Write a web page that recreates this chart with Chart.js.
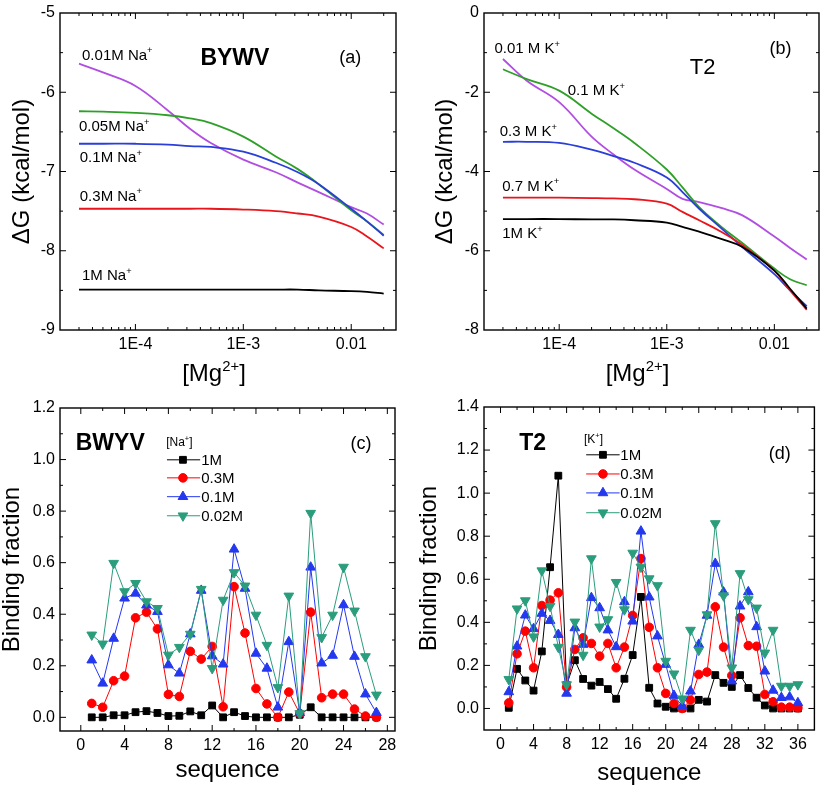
<!DOCTYPE html>
<html>
<head>
<meta charset="utf-8">
<script src="https://cdn.jsdelivr.net/npm/chart.js@4.4.1/dist/chart.umd.min.js"></script>
<style>
  body { margin: 0; background: #fff; }
  .panel { position: absolute; }
</style>
</head>
<body>
<div class="panel" style="left:0;top:0;width:410px;height:390px"><canvas id="chartA"></canvas></div>
<div class="panel" style="left:410px;top:0;width:411px;height:390px"><canvas id="chartB"></canvas></div>
<div class="panel" style="left:0;top:390px;width:410px;height:395px"><canvas id="chartC"></canvas></div>
<div class="panel" style="left:410px;top:390px;width:411px;height:395px"><canvas id="chartD"></canvas></div>
<script>
// ---- data: panel (a) BYWV, dG vs [Mg2+] ----
const mgA = [3e-5, 5e-5, 1e-4, 2e-4, 3.2e-4, 5e-4, 1e-3, 2e-3, 3.2e-3, 5e-3, 1e-2, 1.4e-2, 2e-2];
const na001 = [-5.64, -5.75, -5.92, -6.23, -6.46, -6.64, -6.85, -7.01, -7.14, -7.26, -7.45, -7.53, -7.67];
const na005 = [-6.24, -6.245, -6.26, -6.29, -6.33, -6.39, -6.56, -6.81, -6.97, -7.16, -7.49, -7.63, -7.80];
const na01  = [-6.65, -6.65, -6.65, -6.66, -6.68, -6.69, -6.75, -6.89, -7.01, -7.16, -7.47, -7.63, -7.81];
const na03  = [-7.47, -7.47, -7.47, -7.47, -7.47, -7.47, -7.48, -7.50, -7.53, -7.57, -7.70, -7.82, -7.97];
const na1   = [-8.49, -8.49, -8.49, -8.49, -8.49, -8.49, -8.49, -8.49, -8.49, -8.50, -8.51, -8.52, -8.54];

// ---- data: panel (b) T2, dG vs [Mg2+] ----
const mgB = [3e-5, 5e-5, 1e-4, 2e-4, 3.2e-4, 5e-4, 1e-3, 1.4e-3, 2e-3, 3.2e-3, 5e-3, 1e-2, 1.4e-2, 2e-2];
const k001 = [-1.16, -1.71, -2.25, -3.12, -3.57, -3.95, -4.44, -4.69, -4.77, -4.92, -5.10, -5.64, -5.93, -6.22];
const k01  = [-1.42, -1.67, -1.96, -2.54, -2.91, -3.28, -3.95, -4.40, -4.90, -5.39, -5.80, -6.45, -6.72, -6.87];
const k03  = [-3.25, -3.25, -3.28, -3.45, -3.61, -3.78, -4.15, -4.52, -4.94, -5.43, -5.90, -6.59, -7.00, -7.40];
const k07  = [-4.66, -4.66, -4.66, -4.67, -4.68, -4.70, -4.81, -5.02, -5.23, -5.52, -5.85, -6.50, -7.00, -7.49];
const k1   = [-5.20, -5.20, -5.20, -5.21, -5.21, -5.23, -5.29, -5.40, -5.52, -5.70, -5.90, -6.50, -6.96, -7.46];

// ---- data: panel (c) BWYV binding fraction ----
const seqC = [1,2,3,4,5,6,7,8,9,10,11,12,13,14,15,16,17,18,19,20,21,22,23,24,25,26,27];
const bwyv1M   = [0, 0, 0.008, 0.008, 0.02, 0.024, 0.017, 0.005, 0.006, 0.023, 0.008, 0.046, 0, 0.02, 0.005, 0, 0, 0, 0, 0.01, 0.039, 0, 0, 0, 0, 0, 0];
const bwyv03M  = [0.054, 0.039, 0.142, 0.16, 0.386, 0.408, 0.343, 0.089, 0.081, 0.256, 0.226, 0.275, 0.041, 0.507, 0.327, 0.112, 0.052, 0, 0.098, 0.015, 0.408, 0.076, 0.09, 0.09, 0.032, 0.005, 0];
const bwyv01M  = [0.222, 0.132, 0.306, 0.462, 0.481, 0.435, 0.41, 0.203, 0.171, 0.323, 0.492, 0.238, 0.206, 0.652, 0.5, 0.248, 0.19, 0.039, 0.293, 0.017, 0.582, 0.21, 0.24, 0.436, 0.236, 0.09, 0.018];
const bwyv002M = [0.32, 0.285, 0.598, 0.488, 0.52, 0.449, 0.423, 0.242, 0.272, 0.323, 0.497, 0.19, 0.455, 0.562, 0.51, 0.397, 0.28, 0.116, 0.471, 0.015, 0.792, 0.31, 0.397, 0.583, 0.413, 0.236, 0.087];

// ---- data: panel (d) T2 binding fraction ----
const seqD = [1,2,3,4,5,6,7,8,9,10,11,12,13,14,15,16,17,18,19,20,21,22,23,24,25,26,27,28,29,30,31,32,33,34,35,36];
const t2_1M   = [0.003, 0.184, 0.13, 0.083, 0.265, 0.656, 1.081, 0.108, 0.224, 0.137, 0.106, 0.123, 0.09, 0.045, 0.138, 0.248, 0.518, 0.096, 0.023, 0.008, 0, 0, 0, 0.04, 0.032, 0.155, 0.119, 0.1, 0.155, 0.095, 0.05, 0.014, 0, 0, 0, 0];
const t2_03M  = [0.026, 0.254, 0.359, 0.189, 0.478, 0.503, 0.537, 0.099, 0.274, 0.328, 0.302, 0.243, 0.302, 0.189, 0.285, 0.432, 0.696, 0.377, 0.189, 0.07, 0.023, 0, 0.039, 0.158, 0.169, 0.472, 0.285, 0.153, 0.421, 0.292, 0.289, 0.065, 0.031, 0.006, 0.006, 0.003];
const t2_01M  = [0.077, 0.289, 0.433, 0.37, 0.441, 0.408, 0.343, 0.07, 0.374, 0.297, 0.514, 0.467, 0.364, 0.286, 0.495, 0.405, 0.823, 0.517, 0.336, 0.204, 0.06, 0.011, 0.08, 0.297, 0.432, 0.673, 0.54, 0.127, 0.475, 0.541, 0.379, 0.173, 0.084, 0.05, 0.053, 0.026];
const t2_002M = [0.135, 0.463, 0.501, 0.333, 0.64, 0.475, 0.285, 0.111, 0.402, 0.248, 0.696, 0.379, 0.413, 0.586, 0.459, 0.722, 0.657, 0.603, 0.571, 0.22, 0.161, 0.045, 0.364, 0.271, 0.436, 0.859, 0.524, 0.189, 0.627, 0.506, 0.467, 0.258, 0.364, 0.104, 0.104, 0.111];

// ---- ticks ----
const mgTicks = [1e-4, 1e-3, 1e-2];
const mgLabels = ['1E-4', '1E-3', '0.01'];
const yTicksA = [-9, -8, -7, -6, -5];
const yTicksB = [-8, -6, -4, -2, 0];
const yTicksC = [0, 0.2, 0.4, 0.6, 0.8, 1.0, 1.2];
const yTicksD = [0, 0.2, 0.4, 0.6, 0.8, 1.0, 1.2, 1.4];
const xTicksC = [0, 4, 8, 12, 16, 20, 24, 28];
const xTicksD = [0, 4, 8, 12, 16, 20, 24, 28, 32, 36];

const FONT = "'Liberation Sans', Arial, Helvetica, sans-serif";

// minor tick helpers (axis decoration only)
const between = (a, b, step) => { const r = []; for (let v = a; v <= b + 1e-9; v += step) r.push(+v.toFixed(4)); return r; };
const logMinor = [];
[1e-5, 1e-4, 1e-3, 1e-2].forEach(d => { for (let m = 2; m <= 9; m++) logMinor.push(d * m); });

function drawRich(ctx, x, y, parts, size, weight, align) {
  let w = 0;
  const segs = parts.map(p => {
    const fs = p[1] ? size * 0.62 : size;
    ctx.font = `${weight} ${fs}px ${FONT}`;
    const sw = ctx.measureText(p[0]).width;
    w += sw;
    return { t: p[0], sup: p[1], fs, sw };
  });
  let cx = align === 'center' ? x - w / 2 : x;
  ctx.textBaseline = 'alphabetic';
  ctx.textAlign = 'left';
  segs.forEach(s => {
    ctx.font = `${weight} ${s.fs}px ${FONT}`;
    ctx.fillText(s.t, cx, s.sup ? y - size * 0.42 : y);
    cx += s.sw;
  });
}

// frame + inward ticks on all four sides, like the original plot
const framePlugin = {
  id: 'frame',
  afterDraw(chart, args, opts) {
    const { ctx, chartArea: a, scales: { x, y } } = chart;
    ctx.save();
    ctx.strokeStyle = '#000';
    ctx.lineWidth = 1.4;
    ctx.strokeRect(a.left, a.top, a.right - a.left, a.bottom - a.top);
    ctx.lineWidth = 1;
    const tick = (vals, len) => {
      ctx.beginPath();
      vals.forEach(v => {
        const px = x.getPixelForValue(v);
        if (px <= a.left + 1 || px >= a.right - 1) return;
        ctx.moveTo(px, a.bottom); ctx.lineTo(px, a.bottom - len);
        ctx.moveTo(px, a.top); ctx.lineTo(px, a.top + len);
      });
      ctx.stroke();
    };
    const tickY = (vals, len) => {
      ctx.beginPath();
      vals.forEach(v => {
        const py = y.getPixelForValue(v);
        if (py <= a.top + 1 || py >= a.bottom - 1) return;
        ctx.moveTo(a.left, py); ctx.lineTo(a.left + len, py);
        ctx.moveTo(a.right, py); ctx.lineTo(a.right - len, py);
      });
      ctx.stroke();
    };
    tick(x.ticks.map(t => t.value), 6);
    tick(opts.xMinor, 3);
    tickY(y.ticks.map(t => t.value), 6);
    tickY(opts.yMinor, 3);
    ctx.restore();
  }
};

// text notes, x-axis title with superscript, in-plot legend
const notesPlugin = {
  id: 'notes',
  afterDatasetsDraw(chart, args, opts) {
    const { ctx, chartArea: a, scales: { x, y } } = chart;
    ctx.save();
    ctx.fillStyle = '#000';
    (opts.items || []).forEach(n => {
      drawRich(ctx, x.getPixelForValue(n.x), y.getPixelForValue(n.y) + n.size * 0.36,
        n.parts, n.size, n.weight || 'normal', n.align || 'left');
    });
    if (opts.xTitle) {
      drawRich(ctx, (a.left + a.right) / 2 + opts.xTitle.dx, a.bottom + opts.xTitle.dy,
        opts.xTitle.parts, opts.xTitle.size, 'normal', 'center');
    }
    const lg = opts.legend;
    if (lg) {
      chart.data.datasets.forEach((ds, i) => {
        const py = y.getPixelForValue(lg.rows[i]);
        ctx.strokeStyle = ds.borderColor;
        ctx.lineWidth = 1;
        ctx.beginPath();
        ctx.moveTo(x.getPixelForValue(lg.x0), py);
        ctx.lineTo(x.getPixelForValue(lg.x1), py);
        ctx.stroke();
        ctx.fillStyle = ds.pointBackgroundColor;
        ctx.strokeStyle = ds.pointBackgroundColor;
        Chart.helpers.drawPoint(ctx, { pointStyle: ds.pointStyle, radius: ds.pointRadius, rotation: ds.pointRotation || 0, borderWidth: 1 },
          x.getPixelForValue(lg.xm), py);
        ctx.fillStyle = '#000';
        drawRich(ctx, x.getPixelForValue(lg.xt), py + 15 * 0.36, [[ds.label]], 15, 'normal', 'left');
      });
    }
    ctx.restore();
  }
};

function curve(label, xs, ys, color) {
  return {
    label, data: xs.map((v, i) => ({ x: v, y: ys[i] })),
    borderColor: color, borderWidth: 1.8, pointRadius: 0,
    tension: 0.4, fill: false
  };
}
function series(label, xs, ys, color, style, radius, rot, order) {
  return {
    label, data: xs.map((v, i) => ({ x: v, y: ys[i] })),
    borderColor: color, borderWidth: 1, pointStyle: style, pointRadius: radius,
    pointRotation: rot, pointBackgroundColor: color, pointBorderColor: color,
    pointBorderWidth: 1, tension: 0, order, fill: false
  };
}

function axisFont(size) { return { family: FONT, size, lineHeight: 1 }; }

function baseOptions(o) {
  return {
    responsive: true, maintainAspectRatio: false, animation: false, devicePixelRatio: 1,
    layout: { padding: o.pad },
    plugins: { legend: { display: false }, tooltip: { enabled: false },
      frame: { xMinor: o.xMinor, yMinor: o.yMinor }, notes: o.notes },
    scales: {
      x: Object.assign({
        min: o.xMin, max: o.xMax,
        afterBuildTicks: s => { s.ticks = o.xTicks.map(v => ({ value: v })); },
        ticks: { font: axisFont(16), color: '#000', padding: 7, maxRotation: 0, autoSkip: false,
          callback: (v, i) => o.xLabels[i] },
        grid: { display: false, drawTicks: false },
        border: { display: false },
        title: o.xTitle ? { display: true, text: o.xTitle, font: axisFont(24), color: '#000', padding: { top: 0, bottom: o.xTitlePad } } : { display: false },
        afterFit: s => { s.height = o.xH; }
      }, o.xType ? { type: o.xType } : { type: 'linear' }),
      y: {
        type: 'linear', min: o.yMin, max: o.yMax,
        afterBuildTicks: s => { s.ticks = o.yTicks.map(v => ({ value: v })); },
        ticks: { font: axisFont(16), color: '#000', padding: 5, callback: o.yFmt },
        grid: { display: false, drawTicks: false },
        border: { display: false },
        title: { display: true, text: o.yTitle, font: axisFont(24), color: '#000', padding: { top: o.yTitlePad, bottom: 0 } },
        afterFit: s => { s.width = o.yW; }
      }
    }
  };
}

const mgTitle = { parts: [['[Mg'], ['2+', 1], [']']], size: 24, dx: -14, dy: 51 };

// panel (a)
new Chart(document.getElementById('chartA'), {
  type: 'line',
  data: { datasets: [
    curve('1M', mgA, na1, '#000000'),
    curve('0.3M', mgA, na03, '#e8161c'),
    curve('0.1M', mgA, na01, '#2a3ed8'),
    curve('0.05M', mgA, na005, '#2f9f2a'),
    curve('0.01M', mgA, na001, '#b14ee2')
  ] },
  options: baseOptions({
    pad: { left: 0, top: 8, right: 14, bottom: 0 },
    xType: 'logarithmic', xMin: 2e-5, xMax: 0.026, xTicks: mgTicks, xLabels: mgLabels, xH: 60,
    yMin: -9, yMax: -5, yTicks: yTicksA, yFmt: v => String(v), yW: 60,
    yTitle: '\u0394G (kcal/mol)', yTitlePad: 10,
    xMinor: logMinor, yMinor: [-8.5, -7.5, -6.5, -5.5],
    notes: {
      xTitle: mgTitle,
      items: [
        { x: 3.2e-5, y: -5.52, parts: [['0.01M Na'], ['+', 1]], size: 15 },
        { x: 4.0e-4, y: -5.55, parts: [['BYWV']], size: 23, weight: 'bold' },
        { x: 9.8e-3, y: -5.55, parts: [['(a)']], size: 18, align: 'center' },
        { x: 3.0e-5, y: -6.42, parts: [['0.05M Na'], ['+', 1]], size: 15 },
        { x: 3.05e-5, y: -6.81, parts: [['0.1M Na'], ['+', 1]], size: 15 },
        { x: 3.05e-5, y: -7.30, parts: [['0.3M Na'], ['+', 1]], size: 15 },
        { x: 3.2e-5, y: -8.30, parts: [['1M Na'], ['+', 1]], size: 15 }
      ]
    }
  }),
  plugins: [framePlugin, notesPlugin]
});

// panel (b)
new Chart(document.getElementById('chartB'), {
  type: 'line',
  data: { datasets: [
    curve('1M', mgB, k1, '#000000'),
    curve('0.7M', mgB, k07, '#e8161c'),
    curve('0.3M', mgB, k03, '#2a3ed8'),
    curve('0.1M', mgB, k01, '#2f9f2a'),
    curve('0.01M', mgB, k001, '#b14ee2')
  ] },
  options: baseOptions({
    pad: { left: 0, top: 8, right: 2, bottom: 0 },
    xType: 'logarithmic', xMin: 2e-5, xMax: 0.026, xTicks: mgTicks, xLabels: mgLabels, xH: 60,
    yMin: -8, yMax: 0, yTicks: yTicksB, yFmt: v => String(v), yW: 74,
    yTitle: '\u0394G (kcal/mol)', yTitlePad: 23,
    xMinor: logMinor, yMinor: [-7, -5, -3, -1],
    notes: {
      xTitle: mgTitle,
      items: [
        { x: 2.5e-5, y: -0.87, parts: [['0.01 M K'], ['+', 1]], size: 15 },
        { x: 2.15e-3, y: -1.34, parts: [['T2']], size: 22, align: 'center' },
        { x: 1.14e-2, y: -0.87, parts: [['(b)']], size: 18, align: 'center' },
        { x: 1.2e-4, y: -1.94, parts: [['0.1 M K'], ['+', 1]], size: 15 },
        { x: 2.8e-5, y: -2.98, parts: [['0.3 M K'], ['+', 1]], size: 15 },
        { x: 2.95e-5, y: -4.35, parts: [['0.7 M K'], ['+', 1]], size: 15 },
        { x: 2.95e-5, y: -5.54, parts: [['1M K'], ['+', 1]], size: 15 }
      ]
    }
  }),
  plugins: [framePlugin, notesPlugin]
});

const fmt1 = v => v.toFixed(1);

// panel (c)
new Chart(document.getElementById('chartC'), {
  type: 'line',
  data: { datasets: [
    series('1M', seqC, bwyv1M, '#000000', 'rect', 4.8, 0, 3),
    series('0.3M', seqC, bwyv03M, '#ff0000', 'circle', 4.3, 0, 2),
    series('0.1M', seqC, bwyv01M, '#2438f0', 'triangle', 5.6, 0, 1),
    series('0.02M', seqC, bwyv002M, '#2a9d7c', 'triangle', 5.6, 180, 0)
  ] },
  options: baseOptions({
    pad: { left: 0, top: 18, right: 15, bottom: 0 },
    xMin: -1.9, xMax: 28.7, xTicks: xTicksC, xLabels: xTicksC.map(String), xH: 54,
    xTitle: 'sequence', xTitlePad: 3,
    yMin: -0.053, yMax: 1.2, yTicks: yTicksC, yFmt: fmt1, yW: 60,
    yTitle: 'Binding fraction', yTitlePad: 0,
    xMinor: between(2, 26, 4), yMinor: between(0.1, 1.1, 0.2),
    notes: {
      items: [
        { x: -0.46, y: 1.07, parts: [['BWYV']], size: 23, weight: 'bold' },
        { x: 7.8, y: 1.07, parts: [['[Na'], ['+', 1], [']']], size: 12 },
        { x: 25.6, y: 1.065, parts: [['(c)']], size: 18, align: 'center' }
      ],
      legend: { x0: 7.87, x1: 10.9, xm: 9.33, xt: 11.0, rows: [0.999, 0.929, 0.856, 0.782] }
    }
  }),
  plugins: [framePlugin, notesPlugin]
});

// panel (d)
new Chart(document.getElementById('chartD'), {
  type: 'line',
  data: { datasets: [
    series('1M', seqD, t2_1M, '#000000', 'rect', 4.8, 0, 3),
    series('0.3M', seqD, t2_03M, '#ff0000', 'circle', 4.3, 0, 2),
    series('0.1M', seqD, t2_01M, '#2438f0', 'triangle', 5.6, 0, 1),
    series('0.02M', seqD, t2_002M, '#2a9d7c', 'triangle', 5.6, 180, 0)
  ] },
  options: baseOptions({
    pad: { left: 0, top: 17, right: 2, bottom: 0 },
    xMin: -2, xMax: 38, xTicks: xTicksD, xLabels: xTicksD.map(String), xH: 55,
    xTitle: 'sequence', xTitlePad: 0,
    yMin: -0.1, yMax: 1.4, yTicks: yTicksD, yFmt: fmt1, yW: 74,
    yTitle: 'Binding fraction', yTitlePad: 7,
    xMinor: between(2, 34, 4), yMinor: between(0.1, 1.3, 0.2),
    notes: {
      items: [
        { x: 2.26, y: 1.238, parts: [['T2']], size: 23, weight: 'bold' },
        { x: 10.1, y: 1.252, parts: [['[K'], ['+', 1], [']']], size: 12 },
        { x: 33.8, y: 1.19, parts: [['(d)']], size: 18, align: 'center' }
      ],
      legend: { x0: 10.37, x1: 14.42, xm: 12.4, xt: 14.5, rows: [1.178, 1.089, 1.001, 0.909] }
    }
  }),
  plugins: [framePlugin, notesPlugin]
});
</script>
</body>
</html>
